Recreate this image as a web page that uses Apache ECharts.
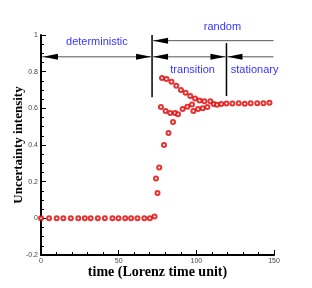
<!DOCTYPE html>
<html><head><meta charset="utf-8">
<script src="https://cdn.jsdelivr.net/npm/echarts@6/dist/echarts.min.js"></script>
<style>html,body{margin:0;padding:0;background:#fff}#c{width:312px;height:288px}</style>
</head><body><div id="c"></div>
<script>
// ---- data ----
const time = [0, 5.2, 10.1, 14.4, 19.2, 24, 28.2, 32, 36.6, 41.1, 46, 49.9, 54.2, 58, 62.1, 66.5, 70.1,
  73.1, 74, 75, 76.1, 77.2, 77.9, 79.2, 80.2, 80.8, 82.1, 83.2, 84, 85, 86.3, 87.1, 88.2, 90.1, 91.2,
  93.1, 94.2, 96.1, 97.2, 98.1, 99.2, 101.1, 102.1, 104.1, 105.2, 107.1, 109, 111.2, 113.3, 116.1,
  119.4, 123.2, 127.3, 131.2, 135, 139.2, 143.2, 147.1];
const intensity = [0, 0, 0, 0, 0, 0, 0, 0, 0, 0, 0, 0, 0, 0, 0, 0, 0,
  0.01, 0.217, 0.138, 0.277, 0.607, 0.765, 0.40, 0.586, 0.76, 0.466, 0.575, 0.745, 0.525, 0.574, 0.723, 0.568, 0.70, 0.596,
  0.685, 0.608, 0.667, 0.621, 0.586, 0.654, 0.597, 0.643, 0.601, 0.639, 0.607, 0.639, 0.623, 0.619, 0.623,
  0.627, 0.627, 0.628, 0.625, 0.628, 0.628, 0.628, 0.63];
const phaseLabels = ['deterministic', 'random', 'transition', 'stationary'];
const xTitle = 'time (Lorenz time unit)';
const yTitle = 'Uncertainty intensity';

// ---- annotation geometry (data units) ----
const dividers = [{t: 71.5, y0: 0.661, y1: 1.0}, {t: 119.4, y0: 0.667, y1: 0.956}];
const spans = [
  {from: 0.6, to: 71.5, y: 0.881, left: true, right: true},
  {from: 71.5, to: 149.7, y: 0.969, left: true, right: false},
  {from: 71.5, to: 119.4, y: 0.881, left: true, right: true},
  {from: 119.4, to: 149.7, y: 0.881, left: true, right: false}
];
const labelPos = [[36, 0.962], [116.8, 1.044], [97.6, 0.81], [137.5, 0.81]];

const chart = echarts.init(document.getElementById('c'), null, {renderer: 'canvas'});
const axisCommon = {
  type: 'value',
  nameLocation: 'middle',
  nameMoveOverlap: false,
  axisLine: {onZero: false, lineStyle: {color: '#000', width: 2}},
  axisTick: {inside: true, length: 5, lineStyle: {color: '#000', width: 1}},
  minorTick: {show: true, length: 3, lineStyle: {color: '#000', width: 1}},
  axisLabel: {fontSize: 7, color: '#444', fontFamily: 'Liberation Sans', margin: 3},
  splitLine: {show: false}
};
chart.setOption({
  animation: false,
  grid: {left: 41, right: 38, top: 35, bottom: 33, containLabel: false, outerBoundsMode: 'none'},
  xAxis: Object.assign({}, axisCommon, {min: 0, max: 150, interval: 50, name: xTitle, nameGap: 10,
    nameTextStyle: {fontFamily: 'Liberation Serif', fontWeight: 'bold', fontSize: 14, color: '#000'},
    minorTick: Object.assign({}, axisCommon.minorTick, {splitNumber: 5})}),
  yAxis: Object.assign({}, axisCommon, {min: -0.2, max: 1, interval: 0.2, name: yTitle, nameGap: 16,
    nameTextStyle: {fontFamily: 'Liberation Serif', fontWeight: 'bold', fontSize: 13, color: '#000'},
    minorTick: Object.assign({}, axisCommon.minorTick, {splitNumber: 4})}),
  series: [{
    type: 'scatter',
    data: time.map((t, i) => [t, intensity[i]]),
    symbol: 'emptyCircle', symbolSize: 4,
    itemStyle: {color: '#e00000', borderColor: '#e00000', borderWidth: 1.1}
  }]
});

const px = (x, y) => chart.convertToPixel({gridIndex: 0}, [x, y]);
const elements = [];
const L = 15, H = 3;
function head(tip, dir) {
  return {type: 'polygon', shape: {points: [[tip[0], tip[1]], [tip[0] - dir * L, tip[1] - H], [tip[0] - dir * L, tip[1] + H]]},
    style: {fill: '#000'}};
}
dividers.forEach(d => {
  const a = px(d.t, d.y0), b = px(d.t, d.y1);
  elements.push({type: 'line', shape: {x1: a[0], y1: a[1], x2: b[0], y2: b[1]}, style: {stroke: '#000', lineWidth: 1.5}});
});
spans.forEach(s => {
  const a = px(s.from, s.y), b = px(s.to, s.y);
  elements.push({type: 'line', shape: {x1: a[0], y1: a[1], x2: b[0], y2: b[1]}, style: {stroke: '#555', lineWidth: 1}});
  if (s.left) elements.push(head([a[0] + 1, a[1]], -1));
  if (s.right) elements.push(head([b[0] - 1, b[1]], 1));
});
phaseLabels.forEach((txt, i) => {
  const p = px(labelPos[i][0], labelPos[i][1]);
  elements.push({type: 'text', x: p[0], y: p[1], style: {text: txt, fill: '#3636ff', font: '11px "Liberation Sans"', align: 'center', verticalAlign: 'middle'}});
});
chart.setOption({graphic: elements});
</script></body></html>
